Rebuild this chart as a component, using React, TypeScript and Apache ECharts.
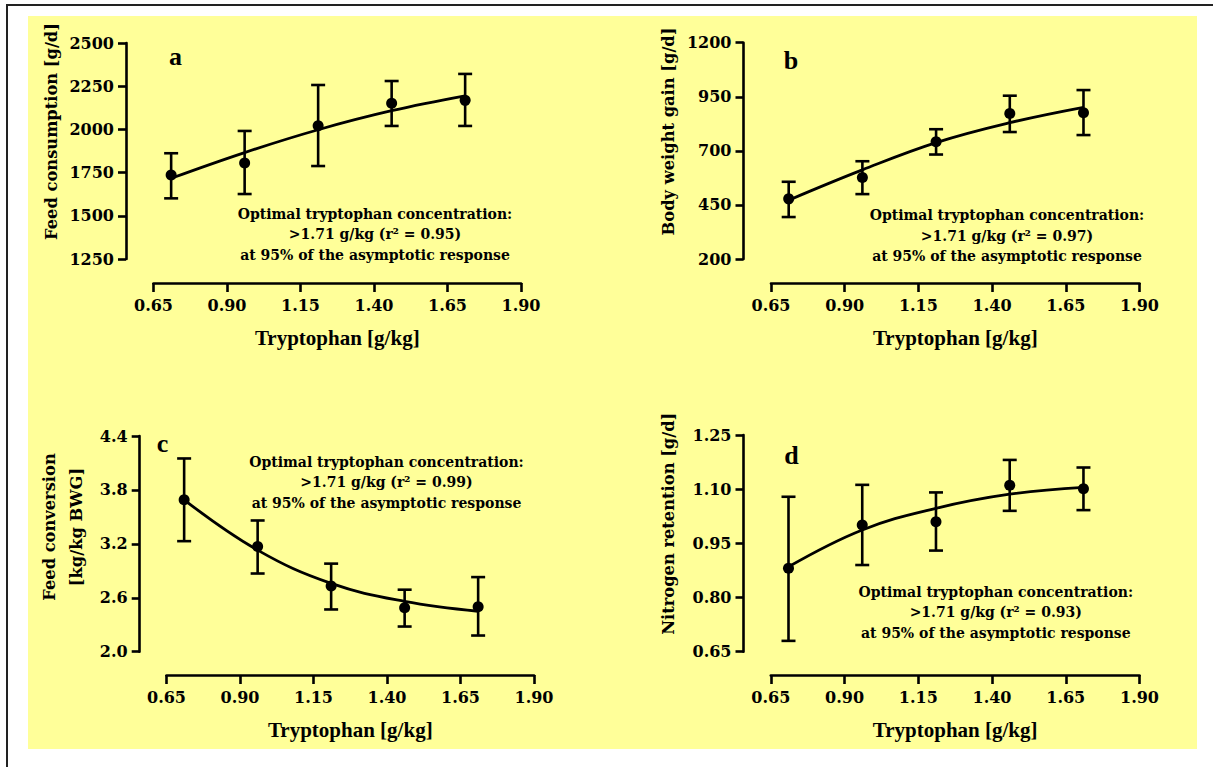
import React, { useEffect, useRef } from 'react';
import * as echarts from 'echarts';

// ---------- data ----------
const tryptophan = [0.71, 0.96, 1.21, 1.46, 1.71];
const xMin = 0.65;
const xMax = 1.9;
const xStep = 0.25;

const feedMean = [1736, 1806, 2021, 2151, 2168];
const feedLow = [1601, 1626, 1788, 2020, 2020];
const feedHigh = [1862, 1991, 2257, 2280, 2321];
const feedFit = [1717, 1866, 1998, 2108, 2194];

const gainMean = [478, 577, 742, 873, 876];
const gainLow = [394, 500, 683, 787, 773];
const gainHigh = [557, 652, 800, 955, 981];
const gainFit = [472, 612, 738, 830, 901];

const fcrMean = [3.69, 3.17, 2.73, 2.49, 2.5];
const fcrLow = [3.23, 2.87, 2.47, 2.28, 2.18];
const fcrHigh = [4.15, 3.46, 2.98, 2.69, 2.83];
const fcrFit = [3.69, 3.13, 2.76, 2.56, 2.45];

const nMean = [0.881, 1.001, 1.01, 1.111, 1.101];
const nLow = [0.68, 0.89, 0.93, 1.04, 1.042];
const nHigh = [1.079, 1.112, 1.091, 1.181, 1.16];
const nFit = [0.885, 0.987, 1.047, 1.086, 1.105];

const panelLetters = ['a', 'b', 'c', 'd'];
const yTitles = [
  ['Feed consumption [g/d]'],
  ['Body weight gain [g/d]'],
  ['Feed conversion', '[kg/kg BWG]'],
  ['Nitrogen retention [g/d]'],
];
const xTitle = 'Tryptophan [g/kg]';
const r2Values = ['0.95', '0.97', '0.99', '0.93'];
const yMins = [1250, 200, 2.0, 0.65];
const yMaxs = [2500, 1200, 4.4, 1.25];
const ySteps = [250, 250, 0.6, 0.15];
const yDecimals = [0, 0, 1, 2];

const means = [feedMean, gainMean, fcrMean, nMean];
const lows = [feedLow, gainLow, fcrLow, nLow];
const highs = [feedHigh, gainHigh, fcrHigh, nHigh];
const fits = [feedFit, gainFit, fcrFit, nFit];

// ---------- layout ----------
const layout = [
  { left: 153.5, top: 43, width: 367.5, height: 216, yAxisX: 126, xAxisY: 283, letter: [175.5, 56], yTitleX: [51], yTitleY: 131.5, note: [375, 213.5] },
  { left: 771, top: 42.7, width: 368.5, height: 216.3, yAxisX: 743.5, xAxisY: 283, letter: [791, 60.3], yTitleX: [668.4], yTitleY: 131.5, note: [1007, 215.2] },
  { left: 166.5, top: 436, width: 367.5, height: 215.7, yAxisX: 139.7, xAxisY: 675, letter: [162.6, 443.7], yTitleX: [49.7, 76.5], yTitleY: 527, note: [386.5, 461.9] },
  { left: 770.8, top: 435, width: 368.7, height: 216.7, yAxisX: 743.5, xAxisY: 675, letter: [791.5, 455.3], yTitleX: [668.4], yTitleY: 523.8, note: [995.8, 591.9] },
];

const TICK_FONT = 'DejaVu Serif';
const TITLE_FONT = 'Liberation Serif';

function buildOption() {
  const grid: any[] = [];
  const xAxis: any[] = [];
  const yAxis: any[] = [];
  const series: any[] = [];
  const graphic: any[] = [];

  graphic.push({
    type: 'rect',
    z: -100,
    shape: { x: 28, y: 16, width: 1169, height: 733 },
    style: { fill: '#FFFF99' },
    silent: true,
  });
  graphic.push({
    type: 'line',
    shape: { x1: 6, y1: 5, x2: 1213, y2: 5 },
    style: { stroke: '#222', lineWidth: 2 },
  });
  graphic.push({
    type: 'line',
    shape: { x1: 7, y1: 4, x2: 7, y2: 767 },
    style: { stroke: '#222', lineWidth: 2 },
  });

  layout.forEach((L, i) => {
    grid.push({ left: L.left, top: L.top, width: L.width, height: L.height, containLabel: false });
    xAxis.push({
      type: 'value',
      gridIndex: i,
      min: xMin,
      max: xMax,
      interval: xStep,
      offset: L.xAxisY - (L.top + L.height),
      name: xTitle,
      nameLocation: 'middle',
      nameGap: 44,
      nameTextStyle: { fontFamily: TITLE_FONT, fontWeight: 'bold', fontSize: 21, color: '#000' },
      axisLine: { show: true, onZero: false, lineStyle: { color: '#000', width: 2.6 } },
      axisTick: { show: true, length: 9, lineStyle: { color: '#000', width: 2.6 } },
      axisLabel: {
        margin: 14,
        fontFamily: TICK_FONT,
        fontWeight: 'bold',
        fontSize: 16,
        color: '#000',
        formatter: (v: number) => v.toFixed(2),
      },
      splitLine: { show: false },
    });
    yAxis.push({
      type: 'value',
      gridIndex: i,
      min: yMins[i],
      max: yMaxs[i],
      interval: ySteps[i],
      offset: L.left - L.yAxisX,
      axisLine: { show: true, onZero: false, lineStyle: { color: '#000', width: 2.6 } },
      axisTick: { show: true, length: 8, lineStyle: { color: '#000', width: 2.6 } },
      axisLabel: {
        margin: 12,
        fontFamily: TICK_FONT,
        fontWeight: 'bold',
        fontSize: 16,
        color: '#000',
        formatter: (v: number) => v.toFixed(yDecimals[i]),
      },
      splitLine: { show: false },
    });

    // fitted curve
    series.push({
      type: 'line',
      xAxisIndex: i,
      yAxisIndex: i,
      data: tryptophan.map((x, k) => [x, fits[i][k]]),
      smooth: 0.4,
      showSymbol: false,
      symbol: 'none',
      lineStyle: { color: '#000', width: 2.8 },
      z: 3,
    });
    // error bars
    series.push({
      type: 'custom',
      xAxisIndex: i,
      yAxisIndex: i,
      data: tryptophan.map((x, k) => [x, lows[i][k], highs[i][k]]),
      encode: { x: 0, y: [1, 2] },
      renderItem: (params: any, api: any) => {
        const x = api.value(0);
        const pLo = api.coord([x, api.value(1)]);
        const pHi = api.coord([x, api.value(2)]);
        const hw = 7;
        const st = { stroke: '#000', lineWidth: 2.6 };
        return {
          type: 'group',
          children: [
            { type: 'line', shape: { x1: pHi[0], y1: pHi[1], x2: pLo[0], y2: pLo[1] }, style: st },
            { type: 'line', shape: { x1: pHi[0] - hw, y1: pHi[1], x2: pHi[0] + hw, y2: pHi[1] }, style: st },
            { type: 'line', shape: { x1: pLo[0] - hw, y1: pLo[1], x2: pLo[0] + hw, y2: pLo[1] }, style: st },
          ],
        };
      },
      z: 4,
    });
    // means
    series.push({
      type: 'scatter',
      xAxisIndex: i,
      yAxisIndex: i,
      data: tryptophan.map((x, k) => [x, means[i][k]]),
      symbol: 'circle',
      symbolSize: 11,
      itemStyle: { color: '#000', opacity: 1 },
      z: 5,
    });

    // panel letter
    graphic.push({
      type: 'text',
      x: L.letter[0],
      y: L.letter[1],
      style: {
        text: panelLetters[i],
        font: `bold 26px "${TITLE_FONT}"`,
        fill: '#000',
        textAlign: 'center',
        textVerticalAlign: 'middle',
        align: 'center',
        verticalAlign: 'middle',
      },
    });
    // y title(s)
    yTitles[i].forEach((t, j) => {
      graphic.push({
        type: 'text',
        x: L.yTitleX[j],
        y: L.yTitleY,
        rotation: Math.PI / 2,
        style: {
          text: t,
          font: `bold 16.3px "${TICK_FONT}"`,
          fill: '#000',
          textAlign: 'center',
          textVerticalAlign: 'middle',
          align: 'center',
          verticalAlign: 'middle',
        },
      });
    });
    // annotation
    const noteLines = [
      'Optimal tryptophan concentration:',
      `>1.71 g/kg (r\u00B2 = ${r2Values[i]})`,
      'at 95% of the asymptotic response',
    ];
    noteLines.forEach((t, j) => {
      graphic.push({
        type: 'text',
        x: L.note[0],
        y: L.note[1] + j * 20.5,
        style: {
          text: t,
          font: `bold 14px "${TICK_FONT}"`,
          fill: '#000',
          textAlign: 'center',
          textVerticalAlign: 'middle',
          align: 'center',
          verticalAlign: 'middle',
        },
      });
    });
  });

  return {
    animation: false,
    backgroundColor: '#fff',
    grid,
    xAxis,
    yAxis,
    series,
    graphic: { elements: graphic },
  };
}

export default function App() {
  const ref = useRef<HTMLDivElement>(null);
  useEffect(() => {
    if (!ref.current) return;
    const chart = echarts.init(ref.current, undefined, { renderer: 'svg' });
    chart.setOption(buildOption() as any);
    return () => chart.dispose();
  }, []);
  return (
    <div
      ref={ref}
      style={{ position: 'absolute', left: 0, top: 0, width: 1213, height: 767 }}
    />
  );
}
